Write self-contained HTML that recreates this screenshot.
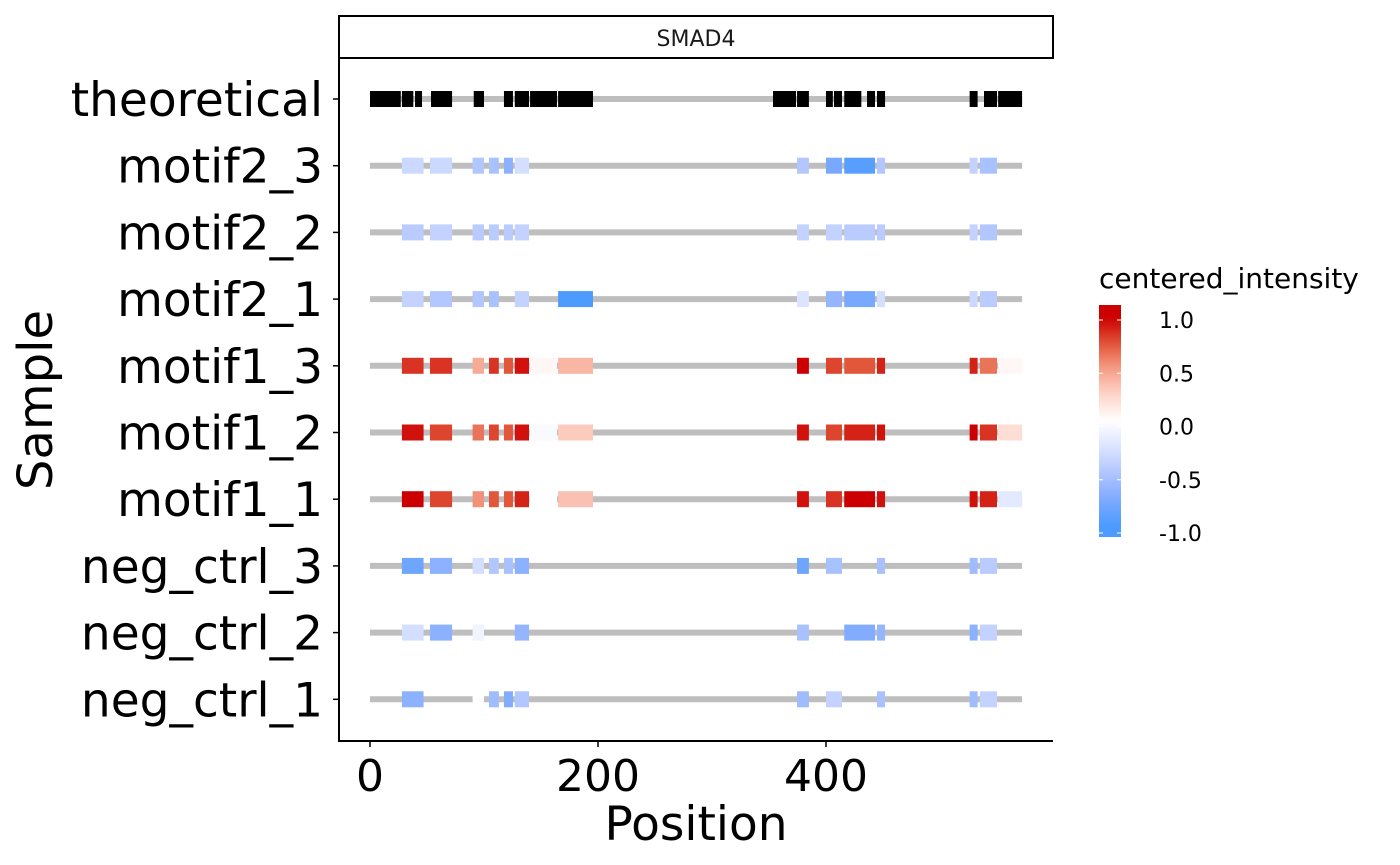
<!DOCTYPE html>
<html><head><meta charset="utf-8"><style>
html,body{margin:0;padding:0;background:#fff;}
svg{display:block;font-family:"DejaVu Sans","Liberation Sans",sans-serif;}
</style></head><body>
<svg id="chart" width="1400" height="865"></svg>
<script>
const samples = ["theoretical","motif2_3","motif2_2","motif2_1","motif1_3","motif1_2","motif1_1","neg_ctrl_3","neg_ctrl_2","neg_ctrl_1"];
const theoStarts = [0,28,39.5,53.5,91,117.5,127,140.4,165,353.5,374.6,400,407,416,436,444.7,526,538.6,551];
const theoEnds   = [27,38,45.6,72,100,125.4,139.5,164,195.6,373.7,385,406,414,431,443,451.8,533,550,572];
const segStarts = [28,52.6,90,104.4,117.5,127,140,165,374.6,400,416,444.7,526,535,551];
const segEnds   = [47,72,100,113,125.4,139.5,164,195.6,385,414,443,451.8,533,550,572];
const N = null;
const valMotif2_3 = [-0.35,-0.35,-0.5,-0.55,-0.7,-0.3,N,N,-0.5,-0.8,-0.95,-0.5,-0.4,-0.55,N];
const valMotif2_2 = [-0.45,-0.4,-0.45,-0.45,-0.45,-0.4,N,N,-0.4,-0.4,-0.45,-0.45,-0.4,-0.5,N];
const valMotif2_1 = [-0.4,-0.5,-0.5,-0.55,N,-0.4,N,-1.0,-0.25,-0.65,-0.8,-0.3,-0.35,-0.45,N];
const valMotif1_3 = [0.85,0.85,0.45,0.85,0.75,0.95,0.05,0.4,1.0,0.8,0.75,0.9,0.9,0.65,0.05];
const valMotif1_2 = [0.95,0.8,0.65,0.8,0.75,0.95,-0.05,0.3,0.95,0.8,0.9,0.95,1.0,0.85,0.2];
const valMotif1_1 = [1.0,0.8,0.55,0.75,0.75,0.9,0.0,0.35,0.95,0.85,1.0,0.95,0.95,0.9,-0.2];
const valNeg3 = [-0.85,-0.7,-0.3,-0.5,-0.55,-0.7,N,N,-0.85,-0.55,N,-0.55,-0.6,-0.45,N];
const valNeg2 = [-0.3,-0.7,-0.1,N,N,-0.65,N,N,-0.55,N,-0.75,-0.65,-0.7,-0.4,N];
const valNeg1 = [-0.7,N,0.0,-0.6,-0.75,-0.5,N,N,-0.6,-0.4,N,-0.55,-0.6,-0.4,N];
const xTicks = [0,200,400];
const legendTicks = [1.0,0.5,0.0,-0.5,-1.0];

const svg = document.getElementById('chart');
const NS = "http://www.w3.org/2000/svg";
function mk(tag, attrs, parent){const e=document.createElementNS(NS,tag);for(const k in attrs)e.setAttribute(k,attrs[k]);(parent||svg).appendChild(e);return e;}
const xScale = v => 370 + v*1.14;
const yScale = i => 99 + i*66.7;
const stops = [[-1,[78,155,255]],[-0.75,[130,172,255]],[-0.5,[178,198,255]],[-0.25,[220,228,255]],[0,[255,255,255]],[0.25,[253,214,203]],[0.5,[246,160,138]],[0.75,[226,86,58]],[1,[204,0,0]]];
function color(v){v=Math.max(-1,Math.min(1,v));for(let i=0;i<stops.length-1;i++){const a=stops[i],b=stops[i+1];if(v<=b[0]){const t=(v-a[0])/(b[0]-a[0]);const c=a[1].map((x,j)=>Math.round(x+(b[1][j]-x)*t));return `rgb(${c})`;}}return 'rgb(204,0,0)';}

const strip = mk('rect',{x:339,y:16,width:714,height:42,fill:'#fff',stroke:'#000','stroke-width':2});


const st = mk('text',{x:696,y:46,'text-anchor':'middle','font-size':22,fill:'#1a1a1a'}); st.textContent='SMAD4';



const rowVals = [null,valMotif2_3,valMotif2_2,valMotif2_1,valMotif1_3,valMotif1_2,valMotif1_1,valNeg3,valNeg2,valNeg1];
samples.forEach((s,i)=>{
  const y = yScale(i);
  const line = mk('line',{x1:xScale(0),x2:xScale(572),y1:y,y2:y,stroke:'#bebebe','stroke-width':6});
  
  
  if(i===0){
    theoStarts.forEach((st,j)=>{
      const r = mk('rect',{x:xScale(st),y:y-8,width:xScale(theoEnds[j])-xScale(st),height:16,fill:'#000'});
      
      
    });
  } else {
    rowVals[i].forEach((v,j)=>{
      if(v===null) return;
      const r = mk('rect',{x:xScale(segStarts[j]),y:y-8,width:xScale(segEnds[j])-xScale(segStarts[j]),height:16,fill:color(v)});
      
      
    });
  }
  const t = mk('text',{x:323,y:y+17,'text-anchor':'end','font-size':47,fill:'#000'}); t.textContent=s;
  
  
  mk('line',{x1:333,x2:339,y1:y,y2:y,stroke:'#000','stroke-width':1.5});
});
const ax = mk('path',{d:'M339 58 V741 H1053',fill:'none',stroke:'#000','stroke-width':2});


xTicks.forEach(v=>{
  mk('line',{x1:xScale(v),x2:xScale(v),y1:741,y2:747,stroke:'#000','stroke-width':1.5});
  const t = mk('text',{x:xScale(v),y:791,'text-anchor':'middle','font-size':44,fill:'#000'}); t.textContent=v;
  
  
});
const xt = mk('text',{x:696,y:840,'text-anchor':'middle','font-size':47,fill:'#000'}); xt.textContent='Position';


const yt = mk('text',{x:0,y:0,'text-anchor':'middle','font-size':48,fill:'#000',transform:'translate(52,400) rotate(-90)'}); yt.textContent='Sample';



const lt = mk('text',{x:1099,y:288,'font-size':28,fill:'#000'}); lt.textContent='centered_intensity';


const defs = mk('defs',{});
const g = mk('linearGradient',{id:'lg',x1:0,y1:0,x2:0,y2:1},defs);
for(let k=0;k<=20;k++){const v=1.13-k*(2.26/20);mk('stop',{offset:(k/20),'stop-color':color(v)},g);}
const bar = mk('rect',{x:1099,y:305,width:22,height:232,fill:'url(#lg)'});


legendTicks.forEach(v=>{
  const y = 426.5 - v*106.5;
  mk('line',{x1:1099,x2:1103,y1:y,y2:y,stroke:'#fff','stroke-width':1});
  mk('line',{x1:1117,x2:1121,y1:y,y2:y,stroke:'#fff','stroke-width':1});
  const t = mk('text',{x:1159,y:y+8,'font-size':22,fill:'#000'}); t.textContent=v.toFixed(1);
  
  
});
</script>
</body></html>
